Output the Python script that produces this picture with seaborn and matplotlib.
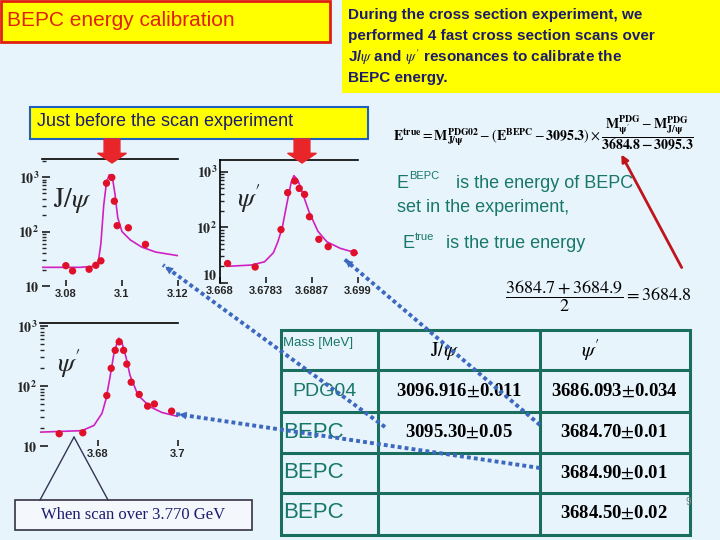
import matplotlib
matplotlib.use("Agg")
import matplotlib.pyplot as plt
import seaborn as sns
import numpy as np
from matplotlib.patches import Rectangle, FancyArrow
from matplotlib.lines import Line2D

sns.set_theme(style="white")
plt.rcParams['font.family'] = ['Liberation Sans', 'DejaVu Sans']
plt.rcParams['mathtext.fontset'] = 'stix'

# ---------------- data ----------------
jpsi_pts_x = [3.0800, 3.0824, 3.0883, 3.0907, 3.0925, 3.0945, 3.0964, 3.0973, 3.0983, 3.1023, 3.1084]
jpsi_pts_y = [23.6, 18.9, 20.3, 24, 29, 770, 980, 360, 128, 117, 58]
jpsi_fit_x = [3.0715, 3.085, 3.090, 3.0915, 3.0925, 3.0935, 3.0945, 3.0955, 3.0965, 3.0975, 3.0985, 3.100, 3.103, 3.107, 3.112, 3.120]
jpsi_fit_y = [22, 22, 23, 26, 60, 300, 800, 1100, 1050, 500, 180, 100, 70, 52, 42, 36]

psi_pts_x = [3.6697, 3.6759, 3.6817, 3.6832, 3.6848, 3.6858, 3.6870, 3.6881, 3.6902, 3.6923, 3.6981]
psi_pts_y = [22.4, 19.4, 91, 420, 680, 500, 390, 155, 61, 45, 35]
psi_fit_x = [3.6700, 3.675, 3.678, 3.680, 3.681, 3.682, 3.683, 3.684, 3.6846, 3.6855, 3.6865, 3.688, 3.690, 3.692, 3.695, 3.699]
psi_fit_y = [20, 21, 24, 35, 55, 100, 260, 650, 850, 700, 420, 190, 85, 55, 42, 34]

psi2_pts_x = [3.6703, 3.6762, 3.6822, 3.6833, 3.6843, 3.6853, 3.6864, 3.6872, 3.6883, 3.6903, 3.6924, 3.6941, 3.6984]
psi2_pts_y = [16, 16.6, 69, 196, 390, 540, 390, 230, 115, 72, 46, 50, 38]
psi2_fit_x = [3.6655, 3.676, 3.679, 3.681, 3.682, 3.683, 3.684, 3.685, 3.6852, 3.686, 3.687, 3.688, 3.690, 3.693, 3.696, 3.700]
psi2_fit_y = [17, 18, 22, 35, 60, 140, 350, 580, 620, 520, 300, 150, 70, 45, 36, 31]

jpsi_ticks = [3.08, 3.1, 3.12]
jpsi_ticklabels = ["3.08", "3.1", "3.12"]
psi_ticks = [3.668, 3.6783, 3.6887, 3.699]
psi_ticklabels = ["3.668", "3.6783", "3.6887", "3.699"]
psi2_ticks = [3.68, 3.7]
psi2_ticklabels = ["3.68", "3.7"]

row_labels = ["PDG04", "BEPC", "BEPC", "BEPC"]
jpsi_mass = [r"3096.916$\pm$0.011", r"3095.30$\pm$0.05", "", ""]
psi_mass = [r"3686.093$\pm$0.034", r"3684.70$\pm$0.01", r"3684.90$\pm$0.01", r"3684.50$\pm$0.02"]

# ---------------- figure ----------------
W, H = 720, 540
BG = "#e8f4fc"
fig = plt.figure(figsize=(7.2, 5.4), dpi=100, facecolor=BG)

def fx(x): return x / W
def fy(y): return 1 - y / H

def rect(x0, y0, x1, y1, fc, ec, lw=2, z=1):
    fig.patches.append(Rectangle((fx(x0), fy(y1)), (x1 - x0) / W, (y1 - y0) / H,
                                 transform=fig.transFigure, fc=fc, ec=ec, lw=lw, zorder=z))

def txt(x, y, s, **kw):
    fig.text(fx(x), fy(y), s, **kw)

TEAL = "#17776a"
NAVY = "#1c1c6e"

# Header boxes
rect(1, 1, 330, 42, "#ffff00", "#e02010", 2)
txt(7, 21, "BEPC energy calibration", color="#e02010", fontsize=15, va="center")
rect(342, 0, 720, 93, "#ffff00", "none", 0)
for i, line in enumerate(["During the cross section experiment, we",
                          "performed 4 fast cross section scans over",
                          r"J/$\psi$ and $\psi^{\prime}$ resonances to calibrate the",
                          "BEPC energy."]):
    txt(348, 15 + 21 * i, line, color=NAVY, fontsize=11, fontweight="bold", va="center")

rect(30, 107, 368, 139, "#ffff00", "#1f5fbf", 1.5)
txt(37, 122, "Just before the scan experiment", color=NAVY, fontsize=13, va="center")

# red block arrows
for xa in [112, 302]:
    fig.patches.append(FancyArrow(fx(xa), fy(139), 0, -(24 / H), width=0.022, head_width=0.04,
                                  head_length=0.018, length_includes_head=True,
                                  transform=fig.transFigure, color="#e8262a", zorder=3))

def make_ax(x0, x1, ytop, ybot, ylim, xlim, fx_, fy_, px_, py_, ticks, labels, name, nx, ny, spines):
    ax = fig.add_axes([fx(x0), fy(ybot), (x1 - x0) / W, (ybot - ytop) / H])
    ax.set_facecolor("none")
    sns.lineplot(x=fx_, y=fy_, ax=ax, color="#d020c0", lw=1.2, sort=False, estimator=None)
    sns.scatterplot(x=px_, y=py_, ax=ax, color="#e0102a", s=28, edgecolor="none", zorder=5)
    ax.set_yscale("log")
    ax.set_ylim(*ylim)
    ax.set_xlim(*xlim)
    for k, v in ax.spines.items():
        v.set_visible(k in spines)
        v.set_color("black"); v.set_linewidth(1.2)
    ax.set_xticks(ticks)
    ax.set_xticklabels(labels, fontsize=8, fontweight="bold")
    ax.set_yticks([10, 100, 1000])
    ax.set_yticklabels([r"$\mathsf{\mathbf{10}}$", r"$\mathsf{\mathbf{10^{2}}}$", r"$\mathsf{\mathbf{10^{3}}}$"], fontsize=10)
    ax.tick_params(axis="y", which="both", left=True, length=3, direction="in", pad=2)
    ax.tick_params(axis="y", which="major", length=6)
    ax.tick_params(axis="x", bottom=True, length=4, direction="in", pad=2)
    ax.set_xlabel(""); ax.set_ylabel("")
    ax.text(nx, ny, name, transform=ax.transAxes, fontsize=20, family="DejaVu Serif", style="italic")
    return ax

make_ax(42, 178, 159, 286, (10, 2140), (3.0715, 3.12), jpsi_fit_x, jpsi_fit_y, jpsi_pts_x, jpsi_pts_y,
        jpsi_ticks, jpsi_ticklabels, r"$\mathrm{J}/\psi$", 0.08, 0.62, ["top"])
axp = make_ax(220, 358, 160, 283, (10, 1620), (3.668, 3.699), psi_fit_x, psi_fit_y, psi_pts_x, psi_pts_y,
        psi_ticks, psi_ticklabels, r"$\psi^{\prime}$", 0.12, 0.62, ["top", "left"])
axp.get_yticklabels()[0].set_va("bottom")
make_ax(40, 178, 323, 446, (10, 1110), (3.6655, 3.7), psi2_fit_x, psi2_fit_y, psi2_pts_x, psi2_pts_y,
        psi2_ticks, psi2_ticklabels, r"$\psi^{\prime}$", 0.12, 0.6, ["top"])

# formula
txt(543, 133, r"$\mathbf{E}^{\mathbf{true}}=\mathbf{M}^{\mathbf{PDG02}}_{\mathbf{J/\psi}}-(\mathbf{E}^{\mathbf{BEPC}}-\mathbf{3095.3})\times\dfrac{\mathbf{M}^{\mathbf{PDG}}_{\mathbf{\psi^{\prime}}}-\mathbf{M}^{\mathbf{PDG}}_{\mathbf{J/\psi}}}{\mathbf{3684.8-3095.3}}$",
    fontsize=10, ha="center", va="center", color="black")

txt(397, 184, "E", color=TEAL, fontsize=13, va="center")
txt(409, 176, "BEPC", color=TEAL, fontsize=8, va="center")
txt(456, 184, "is the energy of BEPC", color=TEAL, fontsize=13, va="center")
txt(397, 208, "set in the experiment,", color=TEAL, fontsize=13, va="center")
txt(403, 244, "E", color=TEAL, fontsize=13, va="center")
txt(415, 237, "true", color=TEAL, fontsize=8, va="center")
txt(446, 244, "is the true energy", color=TEAL, fontsize=13, va="center")

txt(598, 296, r"$\dfrac{3684.7+3684.9}{2}=3684.8$", fontsize=13, ha="center", va="center", color="black")

# red line with arrow
fig.add_artist(matplotlib.patches.FancyArrowPatch((fx(683), fy(270)), (fx(620), fy(152)),
               transform=fig.transFigure, arrowstyle="-|>", mutation_scale=10, color="#c0141c", lw=2))

# table
TL = "#1a6e5e"
rect(281, 330, 690, 535, "none", TL, 2.2, z=2)
for xv in [378, 540]:
    fig.add_artist(Line2D([fx(xv), fx(xv)], [fy(330), fy(535)], color=TL, lw=2.2, transform=fig.transFigure))
for yv in [370, 412, 453, 493]:
    fig.add_artist(Line2D([fx(281), fx(690)], [fy(yv), fy(yv)], color=TL, lw=2.2, transform=fig.transFigure))
txt(283, 343, "Mass [MeV]", color=TEAL, fontsize=9.5, va="center")
txt(445, 350, r"$\mathrm{J}/\psi$", fontsize=15, ha="center", va="center", color="black")
txt(590, 350, r"$\psi^{\prime}$", fontsize=15, ha="center", va="center", color="black")
rows_y = [391, 432, 473, 513]
for i, (lab, a, b) in enumerate(zip(row_labels, jpsi_mass, psi_mass)):
    if i == 0:
        txt(292, rows_y[i], lab, color=TEAL, fontsize=14, va="center")
    else:
        txt(283, rows_y[i], lab, color=TEAL, fontsize=16, va="center")
    if a:
        txt(459, rows_y[i], a, family="Liberation Serif", fontweight="bold", fontsize=13.5,
            ha="center", va="center", color="black")
    txt(614, rows_y[i], b, family="Liberation Serif", fontweight="bold", fontsize=13.5,
        ha="center", va="center", color="black")
txt(685, 502, "9", color="gray", fontsize=7, va="center")

# blue dotted arrows
BLUE = "#3d68c0"
for (x0, y0, x1, y1) in [(385, 427, 163, 265), (540, 425, 343, 258), (540, 468, 176, 414)]:
    fig.add_artist(Line2D([fx(x0), fx(x1)], [fy(y0), fy(y1)], color=BLUE, lw=2.8, ls=(0, (1, 0.8)),
                          transform=fig.transFigure, zorder=6))
    fig.add_artist(matplotlib.patches.FancyArrowPatch((fx(x1 + (x0 - x1) * 0.05), fy(y1 + (y0 - y1) * 0.05)),
                   (fx(x1), fy(y1)), transform=fig.transFigure, arrowstyle="-|>", mutation_scale=14,
                   color=BLUE, lw=0, zorder=6))

# bottom-left note
for xe in [40, 108]:
    fig.add_artist(Line2D([fx(74), fx(xe)], [fy(437), fy(500)], color="#333355", lw=1, transform=fig.transFigure))
rect(15, 500, 252, 530, "#f4f8fc", "#333344", 1.2)
txt(133, 515, "When scan over 3.770 GeV", family="Liberation Serif", fontsize=12, ha="center",
    va="center", color=NAVY)

fig.savefig("out.png", dpi=100, facecolor=BG)
